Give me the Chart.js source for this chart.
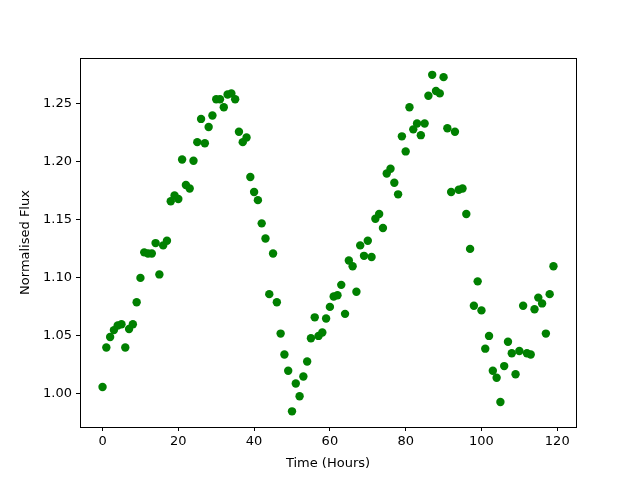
<!DOCTYPE html>
<html>
<head>
<meta charset="utf-8">
<script src="https://cdn.jsdelivr.net/npm/chart.js@4"></script>
<style>
  body { margin: 0; background: #fff; }
  #wrap { width: 640px; height: 480px; }
</style>
</head>
<body>
<div id="wrap"><canvas id="fluxChart" width="640" height="480"></canvas></div>
<script>
// Hours of observation (one sample per hour)
const hours = [];
for (let h = 0; h < 120; h++) hours.push(h);

// Normalised flux
const flux = [
  1.006, 1.040, 1.049, 1.055, 1.059, 1.060, 1.040, 1.056, 1.060, 1.079,
  1.100, 1.122, 1.121, 1.121, 1.130, 1.103, 1.128, 1.132, 1.166, 1.171,
  1.168, 1.202, 1.180, 1.177, 1.201, 1.217, 1.237, 1.216, 1.230, 1.240,
  1.254, 1.254, 1.247, 1.258, 1.259, 1.254, 1.226, 1.217, 1.221, 1.187,
  1.174, 1.167, 1.147, 1.134, 1.086, 1.121, 1.079, 1.052, 1.034, 1.020,
  0.985, 1.009, 0.998, 1.015, 1.028, 1.048, 1.066, 1.050, 1.053, 1.065,
  1.075, 1.084, 1.085, 1.094, 1.069, 1.115, 1.110, 1.088, 1.128, 1.119,
  1.132, 1.118, 1.151, 1.155, 1.143, 1.190, 1.194, 1.182, 1.172, 1.222,
  1.209, 1.247, 1.228, 1.233, 1.223, 1.233, 1.257, 1.275, 1.261, 1.259,
  1.273, 1.229, 1.174, 1.226, 1.176, 1.177, 1.155, 1.125, 1.076, 1.097,
  1.072, 1.039, 1.050, 1.020, 1.014, 0.993, 1.024, 1.045, 1.035, 1.017,
  1.037, 1.076, 1.035, 1.034, 1.073, 1.083, 1.078, 1.052, 1.086, 1.110
];

// Tick labels
const xTicks = [0, 20, 40, 60, 80, 100, 120];
const yTicks = [1.00, 1.05, 1.10, 1.15, 1.20, 1.25];

const points = hours.map((h, i) => ({ x: h, y: flux[i] }));

// Draw the full box around the plot area like matplotlib does
const frame = {
  id: 'frame',
  afterDraw(chart) {
    const { ctx, chartArea: a } = chart;
    ctx.save();
    ctx.strokeStyle = '#000';
    ctx.lineWidth = 1;
    ctx.strokeRect(a.left + 0.5, a.top + 0.5, a.right - a.left, a.bottom - a.top);
    ctx.restore();
  }
};

const font = { family: 'DejaVu Sans', size: 13 };

new Chart(document.getElementById('fluxChart').getContext('2d'), {
  type: 'scatter',
  data: {
    datasets: [{
      data: points,
      backgroundColor: '#008000',
      borderWidth: 0,
      pointRadius: 4.2,
      pointHoverRadius: 4.2
    }]
  },
  options: {
    responsive: false,
    animation: false,
    layout: { padding: { top: 58, right: 64, bottom: 0, left: 0 } },
    plugins: { legend: { display: false }, tooltip: { enabled: false } },
    scales: {
      x: {
        min: -5.95,
        max: 124.95,
        afterFit: s => { s.height = 53; },
        afterBuildTicks: s => { s.ticks = xTicks.map(v => ({ value: v })); },
        ticks: { color: '#000', font: font, padding: 3, maxRotation: 0 },
        grid: { drawOnChartArea: false, drawTicks: true, tickLength: 4, color: '#000' },
        border: { display: false },
        title: { display: true, text: 'Time (Hours)', color: '#000', font: font, padding: { top: 0, bottom: 9 } }
      },
      y: {
        min: 0.9715,
        max: 1.2895,
        afterFit: s => { s.width = 80; },
        afterBuildTicks: s => { s.ticks = yTicks.map(v => ({ value: v })); },
        ticks: { color: '#000', font: font, padding: 4, callback: v => v.toFixed(2) },
        grid: { drawOnChartArea: false, drawTicks: true, tickLength: 4, color: '#000' },
        border: { display: false },
        title: { display: true, text: 'Normalised Flux', color: '#000', font: font, padding: { top: 18, bottom: 0 } }
      }
    }
  },
  plugins: [frame]
});
</script>
</body>
</html>
